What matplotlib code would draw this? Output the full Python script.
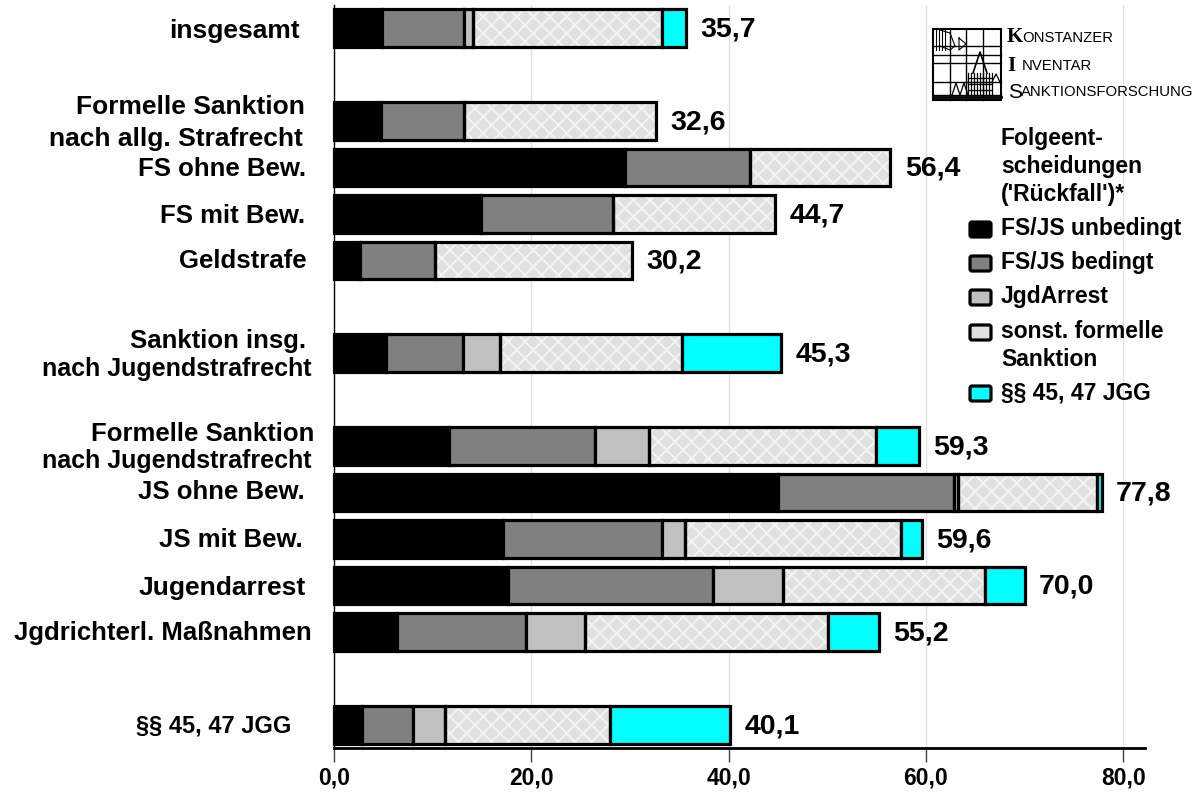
import matplotlib
matplotlib.use('Agg')
import matplotlib.pyplot as plt
from matplotlib.patches import FancyBboxPatch, Rectangle

plt.rcParams['font.family'] = ['Liberation Sans', 'DejaVu Sans']
plt.rcParams['hatch.linewidth'] = 1.4

# row position of each bar, counted from the top
rows = [0, 2, 3, 4, 5, 7, 9, 10, 11, 12, 13, 15]
series_names = ['FS/JS unbedingt', 'FS/JS bedingt', 'JgdArrest', 'sonst. formelle\nSanktion', '§§ 45, 47 JGG']

fs_unbedingt = [4.9, 4.8, 29.5, 14.9, 2.6, 5.3, 11.7, 45.0, 17.1, 17.6, 6.4, 2.8]
fs_bedingt = [8.3, 8.4, 12.7, 13.4, 7.6, 7.8, 14.8, 17.8, 16.1, 20.8, 13.1, 5.2]
jgdarrest = [0.9, 0.0, 0.0, 0.0, 0.0, 3.7, 5.4, 0.4, 2.4, 7.1, 5.9, 3.2]
sonst_formell = [19.1, 19.4, 14.2, 16.4, 20.0, 18.5, 23.0, 14.1, 21.9, 20.5, 24.7, 16.8]
jgg_45_47 = [2.5, 0.0, 0.0, 0.0, 0.0, 10.0, 4.4, 0.5, 2.1, 4.0, 5.1, 12.1]
totals = [35.7, 32.6, 56.4, 44.7, 30.2, 45.3, 59.3, 77.8, 59.6, 70.0, 55.2, 40.1]

xticks = [0, 20, 40, 60, 80]
xtick_labels = ['0,0', '20,0', '40,0', '60,0', '80,0']

row_labels = ['insgesamt', 'Formelle Sanktion', 'nach allg. Strafrecht', 'FS ohne Bew.', 'FS mit Bew.',
              'Geldstrafe', 'Sanktion insg.', 'nach Jugendstrafrecht', 'Formelle Sanktion',
              'nach Jugendstrafrecht', 'JS ohne Bew.', 'JS mit Bew.', 'Jugendarrest',
              'Jgdrichterl. Maßnahmen', '§§ 45, 47 JGG']
# label placement in pixels (right edge, baseline)
label_right = [300, 305, 303, 306, 305, 307, 306, 312, 314, 312, 305, 303, 306, 312, 291]
label_base = [38, 114, 146, 176, 223, 268, 348, 376, 441, 468, 499, 547, 595, 640, 733]
label_size = [19, 19, 19, 18.5, 18.5, 18.5, 18.5, 18, 18.5, 18, 18.5, 18.5, 19, 18.5, 17]

colors = ['#000000', '#808080', '#c0c0c0', '#e0e0e0', '#00ffff']

W, H = 1201, 796
fig = plt.figure(figsize=(W / 100, H / 100), dpi=100)
ax = fig.add_axes([334 / W, 1 - 748 / H, (1145 - 334) / W, (748 - 5) / H])
ax.set_xlim(0, 82.2)
ax.set_ylim(15.5, -0.5)

ax.grid(axis='x', color='#e2e2e2', lw=1)
ax.set_axisbelow(True)

bar_h = 0.81
left = [0.0] * len(rows)
all_series = [fs_unbedingt, fs_bedingt, jgdarrest, sonst_formell, jgg_45_47]
for i, vals in enumerate(all_series):
    keep = [j for j, v in enumerate(vals) if v > 0]
    y = [rows[j] for j in keep]
    w = [vals[j] for j in keep]
    l = [left[j] for j in keep]
    if i == 3:
        # light cross hatch, black outline goes on top
        ax.barh(y, w, left=l, height=bar_h, color=colors[i], edgecolor='#f4f4f4', hatch='xx', lw=0, zorder=3)
        ax.barh(y, w, left=l, height=bar_h, color='none', edgecolor='black', lw=2.3, zorder=4, clip_on=False)
    else:
        ax.barh(y, w, left=l, height=bar_h, color=colors[i], edgecolor='black', lw=2.3, zorder=4, clip_on=False)
    for j, v in enumerate(vals):
        left[j] += v

for r, t in zip(rows, totals):
    ax.annotate(f'{t:.1f}'.replace('.', ','), (t, r), xytext=(10.5, -1), textcoords='offset points',
                va='center', ha='left', fontsize=20.5, fontweight='bold', zorder=5)

for s in ['top', 'right']:
    ax.spines[s].set_visible(False)
ax.spines['bottom'].set_linewidth(2)
ax.spines['left'].set_linewidth(1)
ax.set_yticks([])
ax.set_xticks(xticks)
ax.set_xticklabels(xtick_labels, fontsize=16.5, fontweight='bold')
ax.tick_params(axis='x', length=10, width=1, color='#404040', pad=3)

# overlay in pixel coordinates for labels, legend and logo
ov = fig.add_axes([0, 0, 1, 1], zorder=10)
ov.set_xlim(0, W)
ov.set_ylim(H, 0)
ov.axis('off')

for txt, xr, yp, fs in zip(row_labels, label_right, label_base, label_size):
    ov.text(xr, yp, txt, ha='right', va='baseline', fontsize=fs, fontweight='bold')

# legend
for yp, txt in zip([138, 167, 195], ['Folgeent-', 'scheidungen', "('Rückfall')*"]):
    ov.text(1001, yp, txt, ha='left', va='center', fontsize=16.5, fontweight='bold')
legend_y = [229, 263, 297, 332, 393]
for yp, name, c in zip(legend_y, series_names, colors):
    ov.add_patch(FancyBboxPatch((970, yp - 7), 21, 15, boxstyle='round,pad=0,rounding_size=2',
                                fc=c, ec='black', lw=2.3))
    ov.text(1001, yp, name.split('\n')[0], ha='left', va='center', fontsize=16.5, fontweight='bold')
    if '\n' in name:
        ov.text(1001, yp + 27, name.split('\n')[1], ha='left', va='center', fontsize=16.5, fontweight='bold')

# logo sketch
ov.add_patch(Rectangle((933, 29), 68, 71, fc='white', ec='black', lw=1.5))
for xp in [950, 966, 983]:
    ov.plot([xp, xp], [29, 100], color='black', lw=1)
for yp in [46, 55, 63, 82, 95]:
    ov.plot([933, 1001], [yp, yp], color='black', lw=1)
for xp in [936, 939, 942, 945]:
    ov.plot([xp, xp], [30, 50], color='black', lw=0.8)
ov.plot([940, 950, 955, 950, 940], [30, 33, 46, 50, 46], color='black', lw=0.8)
ov.plot([959, 966, 959, 959], [38, 44, 50, 38], color='black', lw=0.8)
ov.plot([973, 980, 987], [73, 52, 73], color='black', lw=1.2)
for xp in [968, 971, 974, 977, 980, 983, 986, 989, 992]:
    ov.plot([xp, xp], [73, 95], color='black', lw=0.9)
for yp in [78, 84, 90]:
    ov.plot([968, 992], [yp, yp], color='black', lw=0.9)
ov.plot([952, 956, 960, 964, 968], [95, 83, 95, 83, 95], color='black', lw=0.9)
ov.plot([992, 996, 1000], [82, 74, 82], color='black', lw=0.9)
ov.plot([933, 1001], [97, 97], color='black', lw=2)

serif = ['Liberation Serif', 'DejaVu Serif']
ov.text(1007, 37, 'K', fontsize=15, family=serif, fontweight='bold', va='center', ha='left')
ov.text(1022, 38, 'ONSTANZER', fontsize=10.7, va='center', ha='left')
ov.text(1007, 66, 'I', fontsize=15, family=serif, fontweight='bold', va='center', ha='left')
ov.text(1022, 66, 'NVENTAR', fontsize=10.7, va='center', ha='left')
ov.text(1008, 92, 'S', fontsize=15, va='center', ha='left')
ov.text(1021, 92, 'ANKTIONSFORSCHUNG', fontsize=10.7, va='center', ha='left')

fig.savefig('out.png', dpi=100)
